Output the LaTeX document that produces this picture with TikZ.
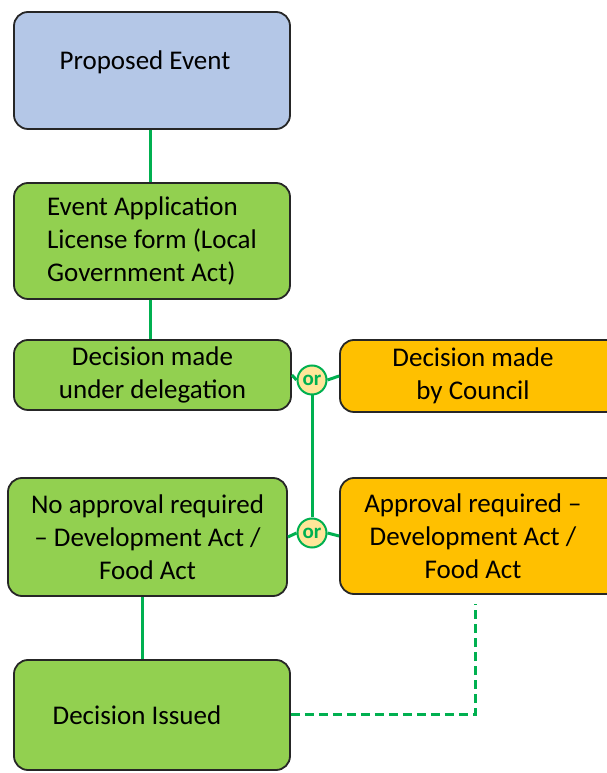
\documentclass[tikz,border=0pt]{standalone}
\usepackage{fontspec}
\setmainfont{Carlito}
\definecolor{peblue}{HTML}{B4C7E7}
\definecolor{boxgreen}{HTML}{92D050}
\definecolor{boxorange}{HTML}{FFC000}
\definecolor{linegreen}{HTML}{00B050}
\definecolor{orfill}{HTML}{FFE699}
\tikzset{
  box/.style={draw=black!85, line width=1.8pt, rounded corners=14pt, align=center,
    font=\fontsize{27}{33}\selectfont, inner sep=0pt},
  conn/.style={draw=linegreen, line width=3pt},
  orc/.style={circle, draw=linegreen, line width=2pt, fill=orfill, minimum size=29pt,
    inner sep=0pt, text=linegreen, font=\fontsize{21}{21}\selectfont\bfseries},
  plain/.style={font=\fontsize{27}{33}\selectfont, inner sep=0pt, align=center}
}
\begin{document}
\begin{tikzpicture}[x=1pt,y=1pt]
\useasboundingbox (0,0) rectangle (607,773);
\node[box, fill=peblue, minimum width=276pt, minimum height=117pt] (pe) at (152,702.5) {};
\node[plain] (pet) at (145,711) {Proposed Event};
\node[box, fill=boxgreen, minimum width=276pt, minimum height=116pt, align=left] (ea) at (152,532)
  {Event Application\\License form (Local\\Government Act)\hspace*{8pt}};
\node[box, fill=boxgreen, minimum width=277pt, minimum height=70pt] (dd) at (152.5,398)
  {Decision made\\under delegation};
\node[box, fill=boxorange, minimum width=280pt, minimum height=72pt] (dc) at (480,397)
  {\hspace*{-14pt}Decision made\\\hspace*{-14pt}by Council};
\node[box, fill=boxgreen, minimum width=279pt, minimum height=118pt] (na) at (147.5,236)
  {No approval required\\– Development Act /\\Food Act};
\node[box, fill=boxorange, minimum width=280pt, minimum height=116pt] (ar) at (480,237)
  {\hspace*{-14pt}Approval required –\\\hspace*{-14pt}Development Act /\\\hspace*{-14pt}Food Act};
\node[box, fill=boxgreen, minimum width=276pt, minimum height=110pt] (di) at (152,58) {};
\node[plain] (dit) at (137,58) {Decision Issued};
\node[orc] (or1) at (312,393) {or};
\node[orc] (or2) at (312,240) {or};
\coordinate (dend) at (475,169);
\draw[conn] ([xshift=-2pt]pe.south) -- ([xshift=-2pt]ea.north);
\draw[conn] ([xshift=-2pt]ea.south) -- ([xshift=-2.5pt]dd.north);
\draw[conn] (dd.east) -- (or1.west);
\draw[conn] (or1.east) -- (dc.west);
\draw[conn] (na.east) -- (or2.west);
\draw[conn] (or2.east) -- (ar.west);
\draw[conn] (or1.south) -- (or2.north);
\draw[conn] ([xshift=-5.5pt]na.south) -- ([xshift=-5.5pt]na.south |- di.north);
\draw[conn, dash pattern=on 9pt off 5pt] (di.east) -| (dend);
\end{tikzpicture}
\end{document}
